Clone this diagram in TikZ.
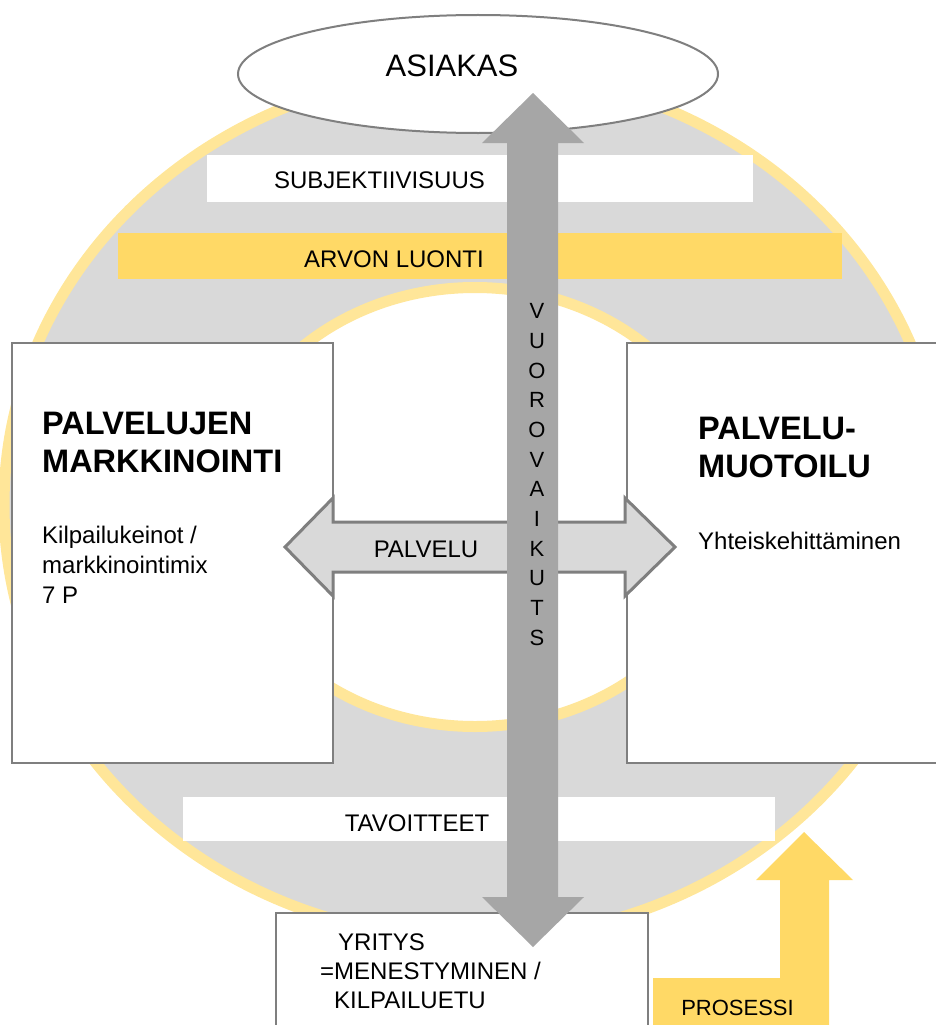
\documentclass[tikz,border=0pt]{standalone}
\usepackage{fontspec}
\setmainfont{Liberation Sans}
\usepackage{tikz}
\usetikzlibrary{shapes,arrows,positioning,calc}
\definecolor{ringyellow}{RGB}{255,230,153}
\definecolor{baryellow}{RGB}{255,217,102}
\definecolor{softgray}{RGB}{217,217,217}
\definecolor{midgray}{RGB}{166,166,166}
\definecolor{edgegray}{RGB}{127,127,127}

\begin{document}
\begin{tikzpicture}[x=1pt, y=-1pt,
    ring/.style={draw=ringyellow, line width=11pt},
    bar/.style={rectangle, inner sep=0pt, minimum width=#1},
    box/.style={rectangle, draw=edgegray, line width=2pt, fill=white, inner sep=0pt},
    txt/.style={font=\fontsize{24}{30}\selectfont, inner sep=0pt, align=left},
    head/.style={font=\fontsize{32.5}{38}\selectfont\bfseries, inner sep=0pt, align=left}]

    \useasboundingbox (0,0) rectangle (936,1025);
    \clip (0,0) rectangle (936,1025);

    % rings
    \draw[ring, fill=softgray] (474,505) ellipse [x radius=470, y radius=434];
    \draw[ring, fill=white] (475,507) ellipse [x radius=252.5, y radius=219.5];

    % bands across the ring
    \node[bar=546, minimum height=47, fill=white] (subj) at (480,178.5) {};
    \node[bar=724, minimum height=46, fill=baryellow] (arvo) at (480,256) {};
    \node[bar=592, minimum height=44, fill=white] (tavo) at (479,819) {};

    % side boxes
    \node[box, minimum width=321, minimum height=420] (markk) at (172.5,553) {};
    \node[box, minimum width=330, minimum height=420] (muoto) at (792,553) {};

    % palvelu arrow
    \draw[draw=edgegray, line width=3pt, fill=softgray]
        (285,547) -- (333,498) -- (333,522) -- (625,522) -- (625,498) -- (675,547)
        -- (625,596) -- (625,572) -- (333,572) -- (333,596) -- cycle;

    \node[ellipse, draw=edgegray, line width=2pt, fill=white, inner sep=0pt,
          minimum width=480, minimum height=118] (asiakas) at (478,74) {};
    \node[box, minimum width=372, minimum height=140] (yritys) at (462,983) {};

    % prosessi arrow
    \fill[baryellow] (653,1030) -- (653,978) -- (780,978) -- (780,880) -- (756,880)
        -- (804,832) -- (853,880) -- (829,880) -- (829,1030) -- cycle;

    % vuorovaikutus arrow
    \fill[midgray] (533,93) -- (584,143) -- (558,143) -- (558,897) -- (584,897)
        -- (533,947) -- (482,897) -- (507,897) -- (507,143) -- (482,143) -- cycle;

    % texts
    \node[txt, font=\fontsize{31}{36}\selectfont, anchor=base] (asiakastxt) at (452,77) {ASIAKAS};
    \node[txt, anchor=base] (subjtxt) at (379.5,188) {SUBJEKTIIVISUUS};
    \node[txt, anchor=base] (arvotxt) at (394,267) {ARVON LUONTI};
    \node[txt, anchor=base] (tavotxt) at (417,831) {TAVOITTEET};
    \node[txt, anchor=base] (palvtxt) at (426,557) {PALVELU};
    \node[txt, font=\fontsize{22}{26}\selectfont, anchor=base] (prostxt) at (737.5,1015) {PROSESSI};

    \node[head, anchor=north west] (markktitle) at (42,412) {PALVELUJEN\\MARKKINOINTI};
    \node[txt, anchor=north west] (markkbody) at (42,526) {Kilpailukeinot /\\markkinointimix\\7 P};
    \node[head, anchor=north west] (muototitle) at (698,417) {PALVELU-\\MUOTOILU};
    \node[txt, anchor=base west] (muotobody) at (698,549) {Yhteiskehittäminen};

    \node[txt, font=\fontsize{24}{29}\selectfont, anchor=north west] (yritystxt) at (320,934)
        {\hspace*{18pt}YRITYS\\=MENESTYMINEN /\\\hspace*{14pt}KILPAILUETU};

    \node[txt, font=\fontsize{22}{29.7}\selectfont, align=center] (vuoro) at (537,474.5)
        {V\\U\\O\\R\\O\\V\\A\\I\\K\\U\\T\\S};
\end{tikzpicture}
\end{document}
